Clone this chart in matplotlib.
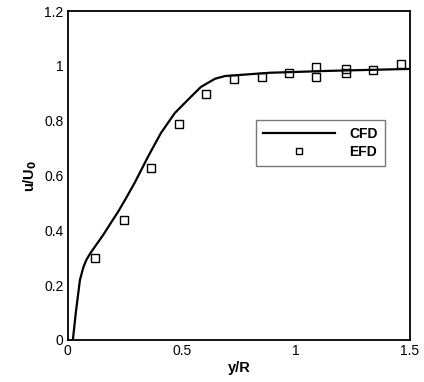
import matplotlib
matplotlib.use("Agg")
import matplotlib.pyplot as plt

plt.rcParams['font.family'] = ['Liberation Sans', 'DejaVu Sans']

cfd_x = [0.022, 0.035, 0.053, 0.068, 0.08, 0.095, 0.12, 0.154, 0.197, 0.219, 0.25, 0.294, 0.351,
         0.408, 0.469, 0.526, 0.583, 0.645, 0.689, 0.754, 0.886, 1.0, 1.15, 1.3, 1.5]
cfd_y = [0.0, 0.1, 0.219, 0.265, 0.29, 0.312, 0.342, 0.382, 0.438, 0.466, 0.51, 0.575, 0.668,
         0.755, 0.828, 0.876, 0.923, 0.953, 0.963, 0.967, 0.975, 0.978, 0.982, 0.985, 0.989]

efd_x = [0.12, 0.245, 0.365, 0.487, 0.605, 0.73, 0.85, 0.97, 1.09, 1.09, 1.218, 1.218, 1.338, 1.46]
efd_y = [0.30, 0.436, 0.626, 0.788, 0.899, 0.953, 0.96, 0.975, 0.996, 0.96, 0.99, 0.975, 0.985, 1.007]

x_ticks = [0, 0.5, 1, 1.5]
x_tick_labels = ['0', '0.5', '1', '1.5']
y_ticks = [0, 0.2, 0.4, 0.6, 0.8, 1.0, 1.2]
y_tick_labels = ['0', '0.2', '0.4', '0.6', '0.8', '1', '1.2']

fig = plt.figure(figsize=(4.24, 3.82), dpi=100)
ax = fig.add_axes([0.160, 0.110, 0.807, 0.861])

ax.plot(cfd_x, cfd_y, color='black', lw=1.6, label='CFD')
ax.plot(efd_x, efd_y, ls='none', marker='s', ms=6.0, mfc='none', mec='black', mew=1.0, label='EFD')

ax.set_xlim(0, 1.5)
ax.set_ylim(0, 1.2)
ax.set_xticks(x_ticks)
ax.set_xticklabels(x_tick_labels)
ax.set_yticks(y_ticks)
ax.set_yticklabels(y_tick_labels)
ax.tick_params(length=0, labelsize=10, pad=3)
for s in ax.spines.values():
    s.set_linewidth(1.3)

ax.set_xlabel('y/R', fontsize=10.5, fontweight='bold', labelpad=2)
ax.set_ylabel('u/U$_\\mathbf{0}$', fontsize=10.5, fontweight='bold', labelpad=4)

leg = ax.legend(loc='upper left', bbox_to_anchor=(0.53, 0.69), frameon=True, fancybox=False,
                edgecolor='#555555', handlelength=5.2, handletextpad=1.0,
                prop={'weight': 'bold', 'size': 10}, borderpad=0.5, labelspacing=0.3,
                markerscale=0.75)
leg.get_frame().set_linewidth(1.0)

fig.savefig('out.png', dpi=100)
